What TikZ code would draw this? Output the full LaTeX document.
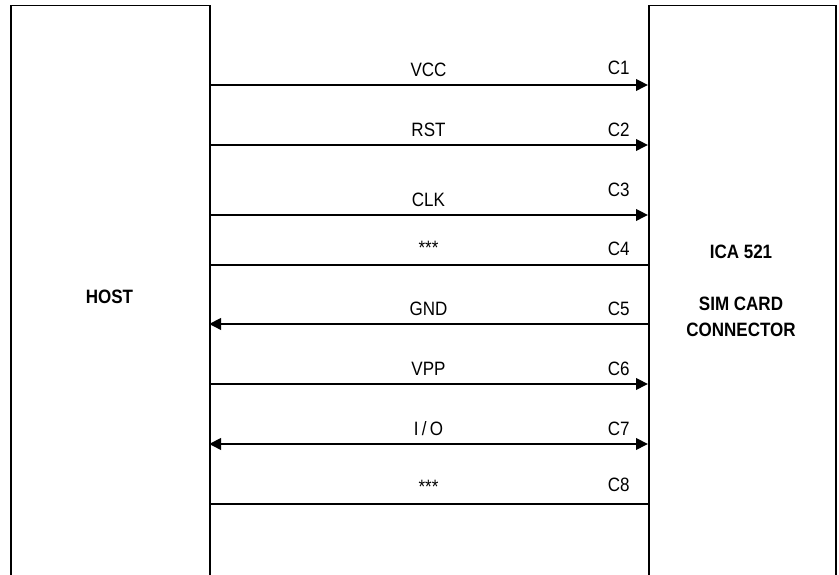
\documentclass[tikz,border=0pt]{standalone}
\usepackage{fontspec}
\setmainfont[FakeStretch=0.88]{Liberation Sans}
\usetikzlibrary{arrows.meta,positioning}

\begin{document}
\begin{tikzpicture}[
    blk/.style={draw,line width=0.3mm,minimum height=12cm,anchor=north west,inner sep=0pt},
    sig/.style={line width=0.4mm,>={Triangle[length=2.4mm,width=2.3mm]}},
    lbl/.style={midway,anchor=base,yshift=0.16cm,inner sep=0pt,font=\fontsize{11}{13}\selectfont},
    pin/.style={anchor=base east,inner sep=0pt,font=\fontsize{11}{13}\selectfont},
    title/.style={align=center,inner sep=0pt,font=\fontsize{11}{13}\selectfont\bfseries}
  ]

    \useasboundingbox (0,0) rectangle (16.78,11.5);
    \clip (0,0) rectangle (16.78,11.5);

    \node[blk,minimum width=3.98cm] (host) at (0.2,11.4) {};
    \node[blk,minimum width=3.74cm] (sim) at (12.96,11.4) {};

    \node[title] (hostname) at (2.19,5.56) {HOST};
    \node[title] (icaname) at (14.82,6.46) {ICA 521};
    \node[title,anchor=base] (simname) at (14.82,4.76) {SIM CARD\\[2pt]CONNECTOR};

    % host side
    \coordinate (h1) at (4.18,9.8);
    \coordinate (h2) at (4.18,8.6);
    \coordinate (h3) at (4.18,7.2);
    \coordinate (h4) at (4.18,6.2);
    \coordinate (h5) at (4.18,5.02);
    \coordinate (h6) at (4.18,3.82);
    \coordinate (h7) at (4.18,2.62);
    \coordinate (h8) at (4.18,1.42);
    % connector side
    \coordinate (s1) at (12.96,9.8);
    \coordinate (s2) at (12.96,8.6);
    \coordinate (s3) at (12.96,7.2);
    \coordinate (s4) at (12.96,6.2);
    \coordinate (s5) at (12.96,5.02);
    \coordinate (s6) at (12.96,3.82);
    \coordinate (s7) at (12.96,2.62);
    \coordinate (s8) at (12.96,1.42);

    \draw[sig,->] (h1) -- node[lbl] (vcc) {VCC} (s1);
    \draw[sig,->] (h2) -- node[lbl] (rst) {RST} (s2);
    \draw[sig,->] (h3) -- node[lbl] (clk) {CLK} (s3);
    \draw[sig] (h4) -- node[lbl,yshift=0.04cm] (rfu1) {***} (s4);
    \draw[sig,<-] (h5) -- node[lbl] (gnd) {GND} (s5);
    \draw[sig,->] (h6) -- node[lbl] (vpp) {VPP} (s6);
    \draw[sig,<->] (h7) -- node[lbl] (io) {I\,/\,O} (s7);
    \draw[sig] (h8) -- node[lbl,yshift=0.04cm] (rfu2) {***} (s8);

    \node[pin] (c1) at ([xshift=-0.36cm,yshift=0.2cm]s1) {C1};
    \node[pin] (c2) at ([xshift=-0.36cm,yshift=0.16cm]s2) {C2};
    \node[pin] (c3) at ([xshift=-0.36cm,yshift=0.36cm]s3) {C3};
    \node[pin] (c4) at ([xshift=-0.36cm,yshift=0.18cm]s4) {C4};
    \node[pin] (c5) at ([xshift=-0.36cm,yshift=0.16cm]s5) {C5};
    \node[pin] (c6) at ([xshift=-0.36cm,yshift=0.16cm]s6) {C6};
    \node[pin] (c7) at ([xshift=-0.36cm,yshift=0.16cm]s7) {C7};
    \node[pin] (c8) at ([xshift=-0.36cm,yshift=0.24cm]s8) {C8};

\end{tikzpicture}
\end{document}
